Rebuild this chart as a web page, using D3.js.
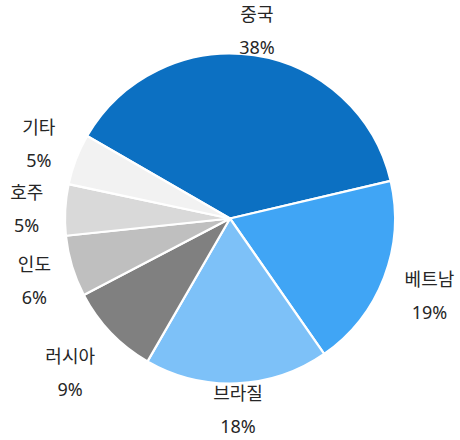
<!DOCTYPE html>
<html>
<head>
<meta charset="utf-8">
<script src="https://cdn.jsdelivr.net/npm/d3@7.9.0/dist/d3.min.js"></script>
<style>
  body { margin: 0; background: #fff; }
  text { font-family: "Noto Sans", "Noto Sans CJK KR", sans-serif; font-size: 18px; fill: #262626; }
</style>
</head>
<body>
<svg id="chart"></svg>
<script>
// ---------- DATA ----------
const countries = ["중국", "베트남", "브라질", "러시아", "인도", "호주", "기타"];
const shares = [38, 19, 18, 9, 6, 5, 5];
const colors = ["#0c70c2", "#40a5f5", "#7dc1f8", "#808080", "#bfbfbf", "#d9d9d9", "#f2f2f2"];

// ---------- LAYOUT ----------
const width = 460;
const height = 440;
const radius = 165;
const cx = width / 2;
const cy = height / 2 - 1.5;
const firstAngle = -Math.PI / 3;   // first slice starts at 300 deg
const labelGap = 22;

const svg = d3.select("#chart")
    .attr("width", width)
    .attr("height", height);

const total = d3.sum(shares);
const fmt = d3.format(".0%");

const pie = d3.pie()
    .sort(null)
    .startAngle(firstAngle)
    .endAngle(firstAngle + 2 * Math.PI);

const arcs = pie(shares);
const arc = d3.arc().innerRadius(0).outerRadius(radius);

const g = svg.append("g").attr("transform", `translate(${cx},${cy})`);

// SLICES
g.selectAll("path")
    .data(arcs)
    .join("path")
    .attr("d", arc)
    .attr("fill", (d, i) => colors[i])
    .attr("stroke", "#fff")
    .attr("stroke-width", 2.2)
    .attr("stroke-linejoin", "round");

// LABELS (name + percent, placed outside the slice end)
const labels = g.selectAll("text")
    .data(arcs)
    .join("text")
    .attr("text-anchor", "middle");

labels.append("tspan").attr("class", "nm").text((d, i) => countries[i]);
labels.append("tspan").attr("class", "pc").text(d => fmt(d.value / total));

labels.each(function (d) {
    const t = d3.select(this);
    const w = Math.max(
        t.select(".nm").node().getComputedTextLength(),
        t.select(".pc").node().getComputedTextLength()
    );
    const hw = w / 2;
    const hh = 24.5;
    const a = (d.startAngle + d.endAngle) / 2;
    const vx = Math.sin(a);
    const vy = -Math.cos(a);
    const m = Math.max(Math.abs(vx), Math.abs(vy));
    const gap = labelGap * Math.pow(Math.abs(vx) / m, 1.5);
    const x = vx * (radius + gap) + hw * vx / m;
    const y = vy * (radius + gap) + hh * vy / m;
    const top = y - hh;
    t.select(".nm").attr("x", x).attr("y", top + 16);
    t.select(".pc").attr("x", x).attr("y", top + 49);
});
</script>
</body>
</html>
